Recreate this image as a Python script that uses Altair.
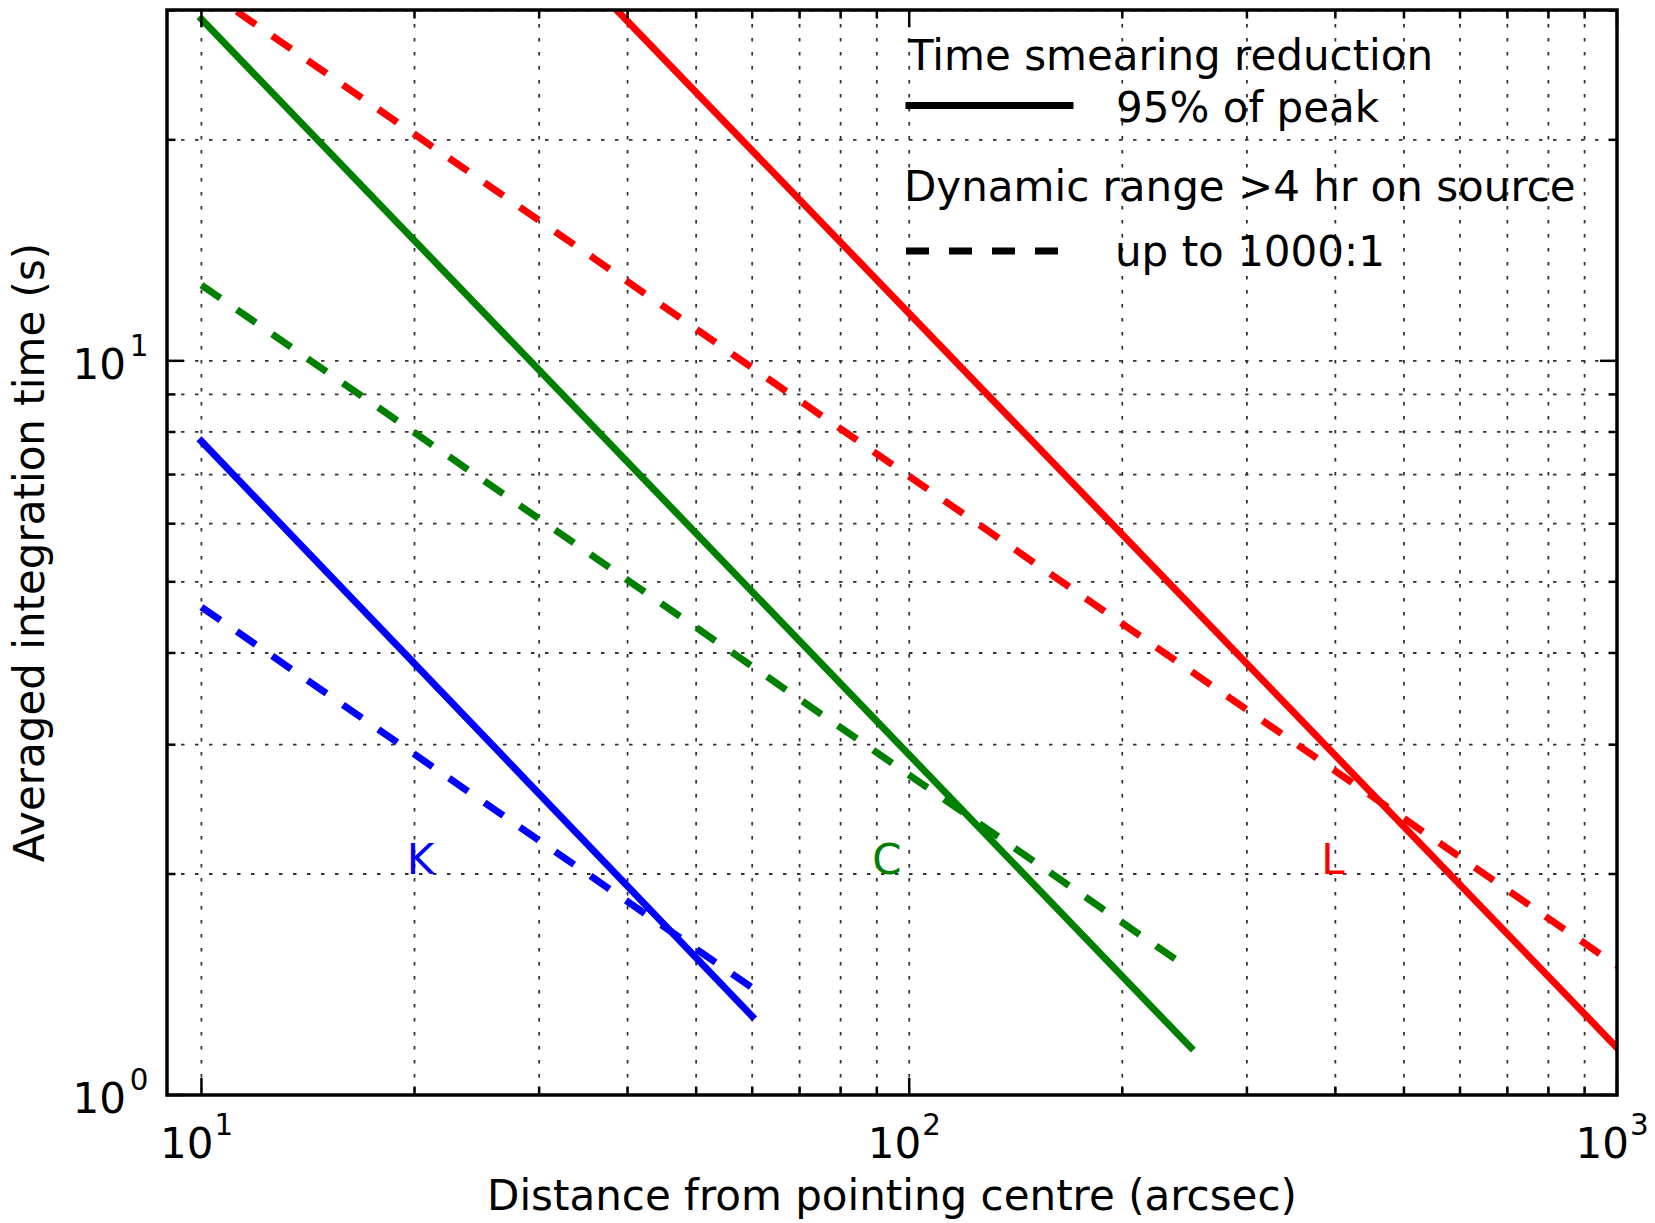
import altair as alt
import pandas as pd

# ---------------- data ----------------
bands = ["K", "C", "L"]
band_colors = ["#0000ff", "#008000", "#ff0000"]

# Time smearing reduction, 95% of peak (solid lines): endpoints
k_solid_x = [10, 60]
k_solid_y = [7.77, 1.28]
c_solid_x = [10, 250]
c_solid_y = [29.2, 1.16]
l_solid_x = [10, 1000]
l_solid_y = [116.0, 1.16]

# Dynamic range >4 hr on source up to 1000:1 (dashed lines): endpoints
k_dash_x = [10, 60]
k_dash_y = [4.62, 1.40]
c_dash_x = [10, 250]
c_dash_y = [12.68, 1.48]
l_dash_x = [10, 1000]
l_dash_y = [32.3, 1.50]

# band label positions (data coords)
label_text = ["K", "C", "L"]
label_x = [19.5, 88.7, 382.0]
label_y = [2.0, 2.0, 2.0]

# ticks
x_major = [10, 100, 1000]
x_minor = [20, 30, 40, 50, 60, 70, 80, 90, 200, 300, 400, 500, 600, 700, 800, 900]
y_major = [1, 10]
y_minor = [2, 3, 4, 5, 6, 7, 8, 9, 20, 30]
x_tick_base = ["10", "10", "10"]
x_tick_exp = ["1", "2", "3"]
y_tick_base = ["10", "10"]
y_tick_exp = ["0", "1"]

x_title = "Distance from pointing centre (arcsec)"
y_title = "Averaged integration time (s)"
legend_head1 = "Time smearing reduction"
legend_item1 = "95% of peak"
legend_head2 = "Dynamic range >4 hr on source"
legend_item2 = "up to 1000:1"

# ---------------- layout ----------------
W, H = 1450, 1085
FONT = "DejaVu Sans"
FS = 42
FS_SUP = 29.4
DASH = [23, 20]
GRID_DASH = [3.5, 10.5]

xscale = alt.Scale(type="log", domain=[8.94, 1000], nice=False)
yscale = alt.Scale(type="log", domain=[1, 30.05], nice=False)

def line_df(xs_list, ys_list):
    rows = []
    for b, xs, ys in zip(bands, xs_list, ys_list):
        for xv, yv in zip(xs, ys):
            rows.append({"band": b, "x": xv, "y": yv})
    return pd.DataFrame(rows)

solid_df = line_df([k_solid_x, c_solid_x, l_solid_x], [k_solid_y, c_solid_y, l_solid_y])
dash_df = line_df([k_dash_x, c_dash_x, l_dash_x], [k_dash_y, c_dash_y, l_dash_y])

color_enc = alt.Color("band:N", scale=alt.Scale(domain=bands, range=band_colors), legend=None)

grid_x = sorted(x_major + x_minor)
grid_y = sorted(y_major + y_minor)

# grid lines (dotted)
xgrid = alt.Chart(pd.DataFrame({"v": grid_x})).mark_rule(
    color="#333333", strokeWidth=1.8, strokeDash=GRID_DASH).encode(
    x=alt.X("v:Q", scale=xscale, axis=None), y=alt.value(0), y2=alt.value(H))
ygrid = alt.Chart(pd.DataFrame({"v": grid_y})).mark_rule(
    color="#333333", strokeWidth=1.8, strokeDash=GRID_DASH).encode(
    y=alt.Y("v:Q", scale=yscale, axis=None), x=alt.value(0), x2=alt.value(W))

solid = alt.Chart(solid_df).mark_line(strokeWidth=7, strokeCap="square", clip=True).encode(
    x=alt.X("x:Q", scale=xscale, axis=None),
    y=alt.Y("y:Q", scale=yscale, axis=None),
    color=color_enc,
    detail="band:N",
)

dashed = alt.Chart(dash_df).mark_line(strokeWidth=7, strokeDash=DASH, strokeCap="butt", clip=True).encode(
    x=alt.X("x:Q", scale=xscale, axis=None),
    y=alt.Y("y:Q", scale=yscale, axis=None),
    color=color_enc,
    detail="band:N",
)

labels_df = pd.DataFrame({"band": label_text, "x": label_x, "y": label_y})
band_labels = alt.Chart(labels_df).mark_text(font=FONT, fontSize=FS, align="left", baseline="alphabetic").encode(
    x=alt.X("x:Q", scale=xscale, axis=None),
    y=alt.Y("y:Q", scale=yscale, axis=None),
    text="band:N",
    color=color_enc,
)

def xticks(vals, y0, y1):
    return alt.Chart(pd.DataFrame({"v": vals})).mark_rule(color="black", strokeWidth=2.5).encode(
        x=alt.X("v:Q", scale=xscale, axis=None), y=alt.value(y0), y2=alt.value(y1))

def yticks(vals, x0, x1):
    return alt.Chart(pd.DataFrame({"v": vals})).mark_rule(color="black", strokeWidth=2.5).encode(
        y=alt.Y("v:Q", scale=yscale, axis=None), x=alt.value(x0), x2=alt.value(x1))

ticks = [
    xticks(x_major, H, H - 17), xticks(x_minor, H, H - 8.5),
    xticks(x_major, 0, 17), xticks(x_minor, 0, 8.5),
    yticks(y_major, 0, 17), yticks(y_minor, 0, 8.5),
    yticks(y_major, W, W - 17), yticks(y_minor, W, W - 8.5),
]

xlab_df = pd.DataFrame({"v": x_major, "base": x_tick_base, "exp": x_tick_exp})
ylab_df = pd.DataFrame({"v": y_major, "base": y_tick_base, "exp": y_tick_exp})

xlab_base = alt.Chart(xlab_df).mark_text(font=FONT, fontSize=FS, align="right", baseline="alphabetic", dx=12, color="black").encode(
    x=alt.X("v:Q", scale=xscale, axis=None), y=alt.value(H + 63), text="base:N")
xlab_exp = alt.Chart(xlab_df).mark_text(font=FONT, fontSize=FS_SUP, align="left", baseline="alphabetic", dx=13, color="black").encode(
    x=alt.X("v:Q", scale=xscale, axis=None), y=alt.value(H + 40), text="exp:N")
ylab_base = alt.Chart(ylab_df).mark_text(font=FONT, fontSize=FS, align="right", baseline="alphabetic", dy=18.3, color="black").encode(
    y=alt.Y("v:Q", scale=yscale, axis=None), x=alt.value(-41), text="base:N")
ylab_exp = alt.Chart(ylab_df).mark_text(font=FONT, fontSize=FS_SUP, align="left", baseline="alphabetic", dy=-5, color="black").encode(
    y=alt.Y("v:Q", scale=yscale, axis=None), x=alt.value(-37.2), text="exp:N")

one = pd.DataFrame({"t": [x_title], "u": [y_title]})
xtitle = alt.Chart(one).mark_text(font=FONT, fontSize=FS, align="center", baseline="alphabetic", color="black").encode(
    x=alt.value(W / 2), y=alt.value(1200), text="t:N")
ytitle = alt.Chart(one).mark_text(font=FONT, fontSize=FS, align="center", baseline="alphabetic", angle=270, color="black").encode(
    x=alt.value(-123), y=alt.value(H / 2), text="u:N")

leg_df = pd.DataFrame({"h1": [legend_head1], "i1": [legend_item1], "h2": [legend_head2], "i2": [legend_item2]})
leg = [
    alt.Chart(leg_df).mark_text(font=FONT, fontSize=FS, align="left", baseline="alphabetic", color="black").encode(
        x=alt.value(741), y=alt.value(60), text="h1:N"),
    alt.Chart(leg_df).mark_text(font=FONT, fontSize=FS, align="left", baseline="alphabetic", color="black").encode(
        x=alt.value(949), y=alt.value(111.5), text="i1:N"),
    alt.Chart(leg_df).mark_text(font=FONT, fontSize=FS, align="left", baseline="alphabetic", color="black").encode(
        x=alt.value(737), y=alt.value(191), text="h2:N"),
    alt.Chart(leg_df).mark_text(font=FONT, fontSize=FS, align="left", baseline="alphabetic", color="black").encode(
        x=alt.value(948), y=alt.value(256), text="i2:N"),
    alt.Chart(leg_df).mark_rule(color="black", strokeWidth=7, strokeCap="square").encode(
        x=alt.value(742), x2=alt.value(903), y=alt.value(95.5)),
    alt.Chart(leg_df).mark_rule(color="black", strokeWidth=7, strokeDash=DASH, strokeCap="butt").encode(
        x=alt.value(739), x2=alt.value(907), y=alt.value(241)),
]

frame = alt.Chart(leg_df).mark_rect(filled=False, stroke="black", strokeWidth=3.5).encode(
    x=alt.value(0), x2=alt.value(W), y=alt.value(0), y2=alt.value(H))

chart = alt.layer(
    xgrid, ygrid, solid, dashed, band_labels, *ticks, xlab_base, xlab_exp, ylab_base, ylab_exp,
    xtitle, ytitle, *leg, frame
).properties(
    width=W, height=H,
    autosize=alt.AutoSizeParams(type="none"),
    padding={"left": 167, "top": 10, "right": 38, "bottom": 128},
    background="white",
).configure_view(strokeWidth=0)

chart.save("out.html", embed_options={"renderer": "svg", "actions": False})
